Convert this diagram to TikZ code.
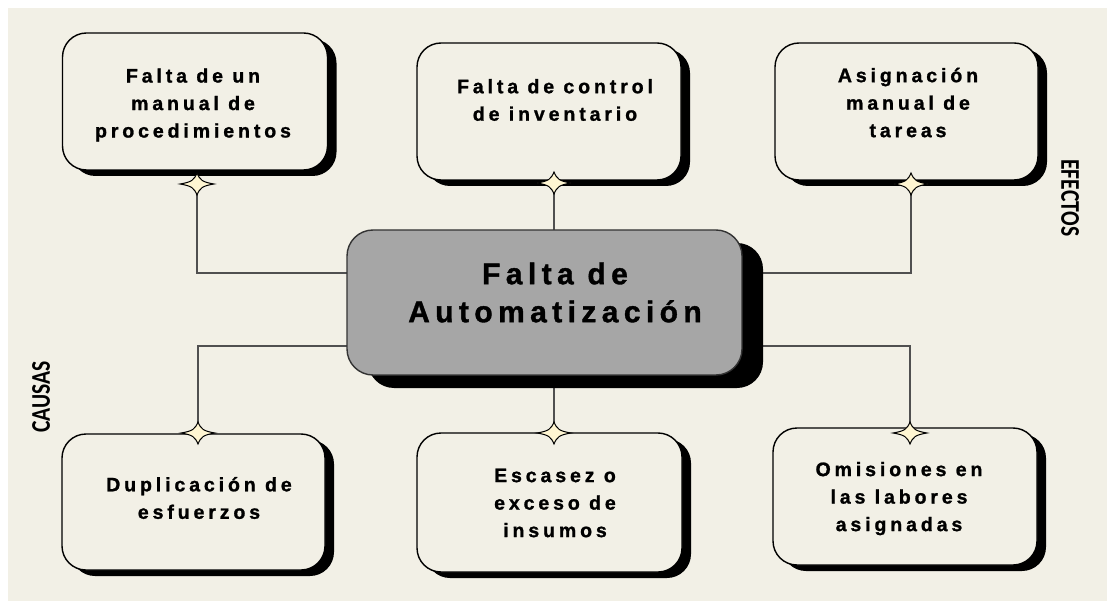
\documentclass[tikz,border=0pt]{standalone}
\usepackage{fontspec}
\setmainfont{Liberation Sans}
\newfontfamily\boxfont[LetterSpace=20, FakeBold=1.2]{Liberation Sans Bold}
\newfontfamily\centfont[LetterSpace=18, FakeBold=1.2]{Liberation Sans Bold}
\newfontfamily\sidefont[FakeStretch=0.8]{Carlito}
\usetikzlibrary{calc,shadows}
\definecolor{bgcol}{HTML}{F2F0E6}
\definecolor{centfill}{HTML}{A6A6A6}
\definecolor{starfill}{HTML}{FFF6D2}
\definecolor{conncol}{HTML}{505050}
\tikzset{
  effbox/.style={draw=black, line width=1.4pt, fill=bgcol, rounded corners=24pt,
    inner sep=0pt, drop shadow={shadow xshift=9pt, shadow yshift=-6pt, fill=black, opacity=1}},
  centbox/.style={draw=black!80, line width=1.4pt, fill=centfill, rounded corners=26pt,
    inner sep=0pt, drop shadow={shadow xshift=21pt, shadow yshift=-13pt, fill=black, opacity=1}},
  boxtext/.style={font=\boxfont\fontsize{19.5}{27.5}\selectfont, align=center, inner sep=0pt},
  centtext/.style={font=\centfont\fontsize{30}{38}\selectfont, align=center, inner sep=0pt},
  sidetext/.style={font=\sidefont\bfseries\fontsize{27}{30}\selectfont, inner sep=0pt},
  conn/.style={draw=conncol, line width=2pt},
  star4/.pic={
    \draw[fill=starfill, draw=black, line width=1pt]
      (-17,0) .. controls (-5,-2) and (-3,-4) .. (0,-11)
      .. controls (3,-4) and (5,-2) .. (17,0)
      .. controls (5,2) and (3,4) .. (0,11)
      .. controls (-3,4) and (-5,2) .. (-17,0) -- cycle;
  }
}
\begin{document}
\begin{tikzpicture}[x=1pt,y=-1pt]
\useasboundingbox (0,0) rectangle (1107,601);
\fill[white] (0,0) rectangle (1107,601);
\fill[bgcol] (8,8) rectangle (1107,601);

% central box (positioned first for connector coordinates)
\coordinate (ccenter) at (544.5,302.5);
\path (ccenter) node[minimum width=395pt, minimum height=145pt, inner sep=0pt] (c) {};

\coordinate (s1) at (197,184);
\coordinate (s2) at (554,183);
\coordinate (s3) at (911,184);
\coordinate (s4) at (198,433);
\coordinate (s5) at (554,433);
\coordinate (s6) at (910,433);

\coordinate (cl1) at ($(c.north west)!0.3!(c.south west)$);
\coordinate (cl2) at ($(c.north west)!0.8!(c.south west)$);
\coordinate (cr1) at ($(c.north east)!0.3!(c.south east)$);
\coordinate (cr2) at ($(c.north east)!0.8!(c.south east)$);

% connectors
\draw[conn] (s1) |- (cl1);
\draw[conn] (s2) -- (s2 |- c.north);
\draw[conn] (s3) |- (cr1);
\draw[conn] (s4) |- (cl2);
\draw[conn] (s5) -- (s5 |- c.south);
\draw[conn] (s6) |- (cr2);

% boxes
\node[effbox, minimum width=265pt, minimum height=137pt] (b1) at (195,101.5) {};
\node[effbox, minimum width=264pt, minimum height=137pt] (b2) at (549,111.5) {};
\node[effbox, minimum width=263pt, minimum height=137pt] (b3) at (906.5,111.5) {};
\node[effbox, minimum width=263pt, minimum height=136pt] (b4) at (193.5,502) {};
\node[effbox, minimum width=265pt, minimum height=139pt] (b5) at (549.5,502.5) {};
\node[effbox, minimum width=264pt, minimum height=137pt] (b6) at (905,496.5) {};
\node[centbox, minimum width=395pt, minimum height=145pt] (cb) at (ccenter) {};

% texts
\node[boxtext] (t1) at (193,105) {Falta de un\\manual de\\procedimientos};
\node[boxtext] (t2) at (555,100) {Falta de control\\de inventario};
\node[boxtext] (t3) at (908,102.6) {Asignación\\manual de\\tareas};
\node[boxtext] (t4) at (199,498) {Duplicación de\\esfuerzos};
\node[boxtext] (t5) at (555,503) {Escasez o\\exceso de\\insumos};
\node[boxtext] (t6) at (899,498.6) {Omisiones en\\las labores\\asignadas};
\node[centtext] (ct) at (555,292.5) {Falta de\\Automatización};

\node[sidetext, rotate=90] (causas) at (41,397) {CAUSAS};
\node[sidetext, rotate=-90] (efectos) at (1070,198) {EFECTOS};

% stars
\pic at (s1) {star4};
\pic at (s2) {star4};
\pic at (s3) {star4};
\pic at (s4) {star4};
\pic at (s5) {star4};
\pic at (s6) {star4};
\end{tikzpicture}
\end{document}
